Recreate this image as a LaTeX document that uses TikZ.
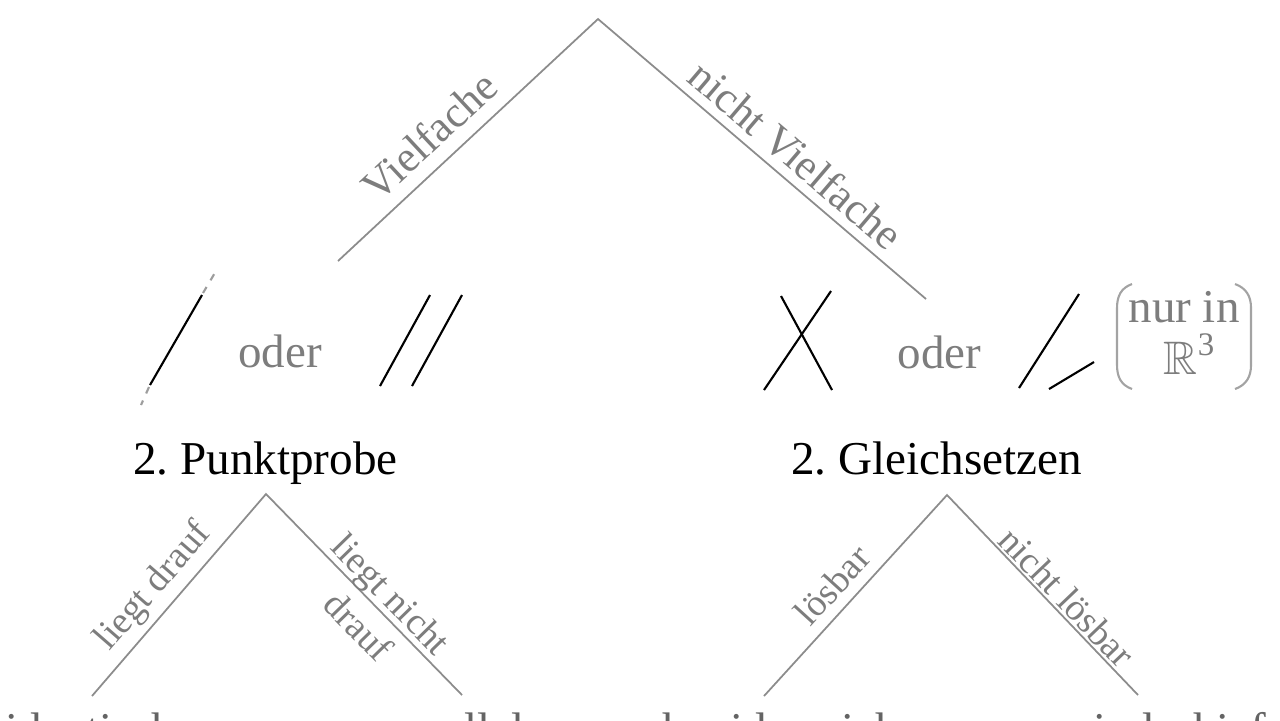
\documentclass[tikz,border=0pt]{standalone}
\usepackage{fontspec}
\setmainfont{Liberation Serif}
\usepackage{amssymb}
\definecolor{txtgray}{RGB}{125,125,125}
\definecolor{linegray}{RGB}{140,140,140}
\definecolor{leafgray}{RGB}{100,100,100}
\begin{document}
\begin{tikzpicture}[x=0.01cm,y=-0.01cm,
  treeline/.style={draw=linegray, line width=0.5pt},
  symline/.style={draw=black, line width=0.6pt},
  symdash/.style={draw=linegray!85, line width=0.6pt, dash pattern=on 2pt off 2.2pt},
  paren/.style={draw=linegray!80, line width=0.6pt},
  stepnode/.style={font=\fontsize{13.4}{16}\selectfont, inner sep=0pt, anchor=base},
  leafnode/.style={font=\fontsize{13.37}{16}\selectfont, inner sep=0pt, anchor=base, text=leafgray},
  odernode/.style={font=\fontsize{13.37}{16}\selectfont, inner sep=0pt, anchor=base, text=txtgray},
  biglbl/.style={text=txtgray, font=\fontsize{12.4}{14.5}\selectfont, inner sep=0pt},
  smalllbl/.style={text=txtgray, font=\fontsize{10.7}{13.1}\selectfont, inner sep=0pt, align=center}]
\useasboundingbox (0,0) rectangle (1280,720);

% tree coordinates
\coordinate (top) at (598,19);
\coordinate (topL) at (338,261);
\coordinate (topR) at (926,299);
\coordinate (pp) at (266,494);
\coordinate (ppL) at (92,696);
\coordinate (ppR) at (462,695);
\coordinate (gs) at (947,495);
\coordinate (gsL) at (764,696);
\coordinate (gsR) at (1138,695);

% tree lines
\draw[treeline] (topL) -- (top) -- (topR);
\draw[treeline] (ppL) -- (pp) -- (ppR);
\draw[treeline] (gsL) -- (gs) -- (gsR);

% branch labels
\node[biglbl, rotate=43] (lVf) at (429,136) {Vielfache};
\node[biglbl, rotate=-40.5] (lnVf) at (796,155) {nicht Vielfache};
\node[smalllbl, rotate=49] (lld) at (154,587) {liegt drauf};
\node[smalllbl, rotate=-45.7] (llnd) at (375,610) {liegt nicht\\drauf};
\node[smalllbl, rotate=47.7] (llb) at (832,585) {lösbar};
\node[smalllbl, rotate=-46.3] (lnlb) at (1067,597) {nicht lösbar};

% step nodes
\node[stepnode] (punkt) at (265.5,474) {2.\ Punktprobe};
\node[stepnode] (gleich) at (936.5,474) {2.\ Gleichsetzen};

% oder
\node[odernode] (oder1) at (280,367) {oder};
\node[odernode] (oder2) at (939.5,368) {oder};

% symbols left: identical line
\draw[symline] (202,295) -- (150,385);
\draw[symdash] (203,293) -- (216,271);
\draw[symdash] (149,387) -- (141,405);
% parallel lines
\draw[symline] (430,295) -- (380,386);
\draw[symline] (462,295) -- (412,386);
% crossing lines
\draw[symline] (781,296) -- (832,390);
\draw[symline] (831,291) -- (764,390);
% skew lines
\draw[symline] (1079,294) -- (1019,388);
\draw[symline] (1094,362) -- (1049,389);

% nur in R^3 with parentheses
\node[odernode, anchor=base] (nurin) at (1184,322) {nur in};
\node[odernode, anchor=base] (rdrei) at (1190,374) {$\mathbb{R}$\textsuperscript{3}};
\draw[paren] (1132,284) .. controls (1121,288) and (1117,296) .. (1117,308) -- (1117,365) .. controls (1117,377) and (1121,385) .. (1132,389);
\draw[paren] (1235,284) .. controls (1246,288) and (1251,296) .. (1251,308) -- (1251,365) .. controls (1251,377) and (1246,385) .. (1235,389);

% results (cut off at bottom)
\node[leafnode] (ident) at (90,745) {identisch};
\node[leafnode] (paral) at (454,745) {parallel};
\node[leafnode] (schn) at (761,745) {schneiden sich};
\node[leafnode] (wind) at (1163,745) {windschief};
\end{tikzpicture}
\end{document}
